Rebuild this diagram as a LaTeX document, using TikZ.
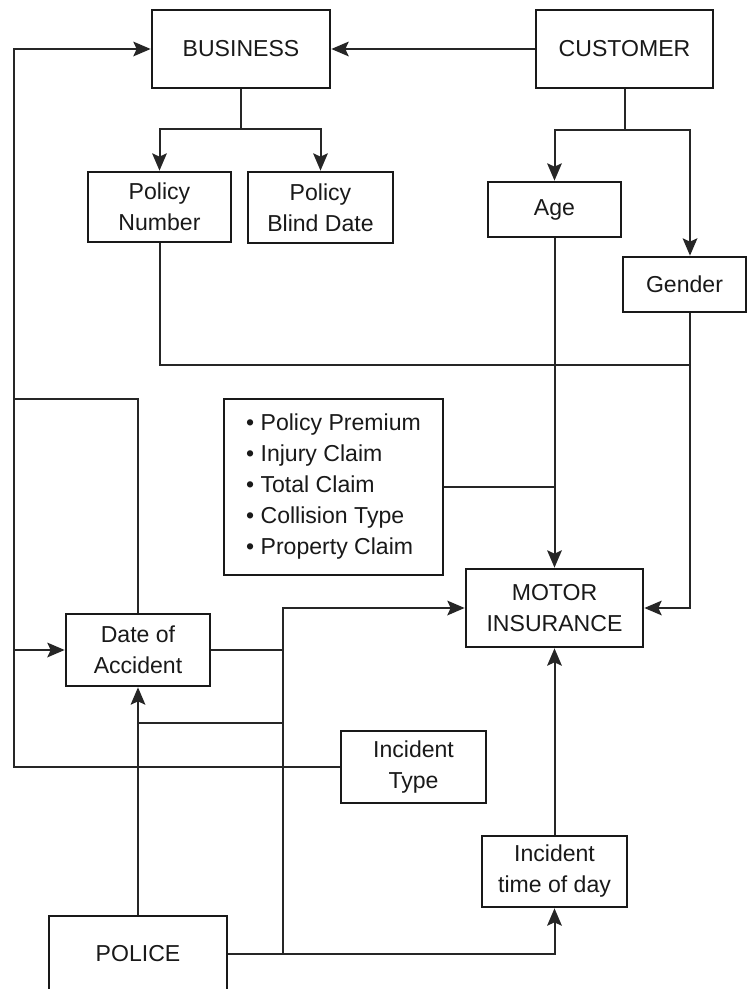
\documentclass[tikz,border=0pt]{standalone}
\usepackage{fontspec}
\setmainfont{Liberation Sans}
\usetikzlibrary{arrows.meta}
\begin{document}
\begin{tikzpicture}[x=0.75pt,y=-0.75pt,
  every node/.style={font=\fontsize{17.3pt}{23.25pt}\selectfont, text=black!90},
  bx/.style={draw=black!90, line width=2pt, inner sep=0pt, align=center},
  conn/.style={draw=black!85, line width=1.5pt},
  arr/.style={conn, -{Stealth[length=13pt,width=11pt,inset=2.5pt]}}]
\useasboundingbox (0,0) rectangle (748,989);

% nodes
\node[bx, minimum width=133.5pt, minimum height=58.5pt] (bus) at (241,49) {BUSINESS};
\node[bx, minimum width=132.75pt, minimum height=58.5pt] (cus) at (624.5,49) {CUSTOMER};
\node[bx, minimum width=107.25pt, minimum height=52.5pt] (pn) at (159.5,207) {Policy\\Number};
\node[bx, minimum width=108.75pt, minimum height=53.25pt] (pbd) at (320.5,207.5) {Policy\\Blind Date};
\node[bx, minimum width=99.75pt, minimum height=41.25pt] (age) at (554.5,209.5) {Age};
\node[bx, minimum width=92.25pt, minimum height=41.25pt] (gen) at (684.5,284.5) {Gender};
\node[bx, minimum width=164.25pt, minimum height=132pt, align=left] (bul) at (333.5,487)
  {• Policy Premium\\• Injury Claim\\• Total Claim\\• Collision Type\\• Property Claim};
\node[bx, minimum width=132.75pt, minimum height=58.5pt] (mi) at (554.5,608) {MOTOR\\INSURANCE};
\node[bx, minimum width=108pt, minimum height=54pt] (doa) at (138,650) {Date of\\Accident};
\node[bx, minimum width=108.75pt, minimum height=54pt] (it) at (413.5,767) {Incident\\Type};
\node[bx, minimum width=108.75pt, minimum height=53.25pt] (itd) at (554.5,871.5) {Incident\\time of day};
\node[bx, minimum width=133.5pt, minimum height=57pt] (pol) at (138,954) {POLICE};

% junction coordinates
\coordinate (bj) at (241,129);
\coordinate (cj) at (624.5,130);
\coordinate (gj) at (690,365);
\coordinate (lt) at (14,49);
\coordinate (ld) at (14,399);
\coordinate (la) at (14,650);
\coordinate (lb) at (14,767);
\coordinate (vb) at (283,954);
\coordinate (vt) at (283,608);
\coordinate (hj) at (283,723);

% business branch
\draw[arr] (cus.west) -- (bus.east);
\draw[conn] (bus.south) -- (bj);
\draw[arr] (bj) -| (pn.north);
\draw[arr] (bj) -| (pbd.north);

% customer branch
\draw[conn] (cus.south) -- (cj);
\draw[arr] (cj) -| (age.north);
\draw[arr] (cj) -| ([xshift=4.125pt]gen.north);

% to motor insurance
\draw[arr] (age.south) -- (mi.north);
\draw[arr] ([xshift=4.125pt]gen.south) |- (mi.east);
\draw[conn] (pn.south) |- (gj);
\draw[conn] (bul.east) -- (bul.east -| age.south);

% left bus line
\draw[arr] (it.west) -- (lb) -- (lt) -- (bus.west);
\draw[conn] (doa.north) |- (ld);
\draw[arr] (la) -- (doa.west);

% police / date of accident
\draw[conn] (doa.east) -- (doa.east -| vt);
\draw[arr] (vb) |- (mi.west);
\draw[arr] (pol.north) -- (doa.south);
\draw[conn] (hj) -- (hj -| doa.south);
\draw[arr] (pol.east) -| (itd.south);
\draw[arr] (itd.north) -- (mi.south);
\end{tikzpicture}
\end{document}
